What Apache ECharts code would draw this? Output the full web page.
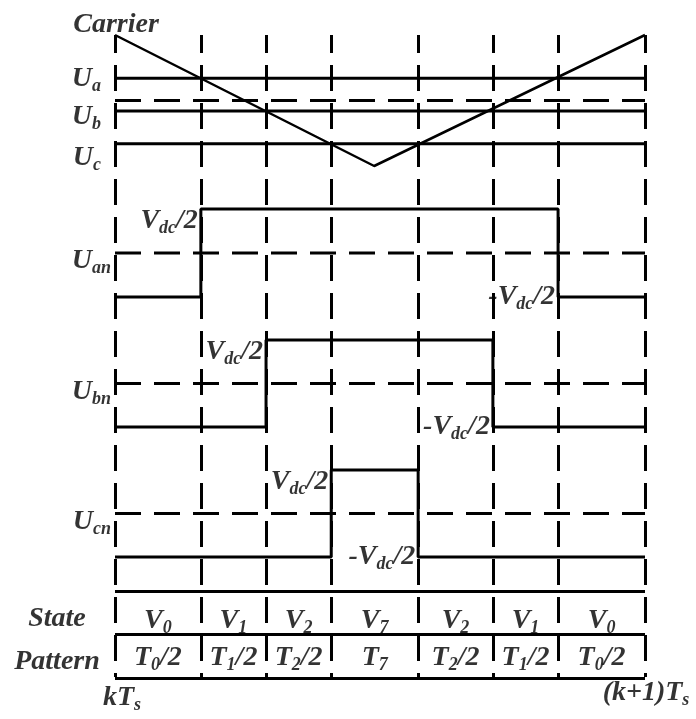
<!DOCTYPE html>
<html>
<head>
<meta charset="utf-8">
<script src="https://cdn.jsdelivr.net/npm/echarts@6/dist/echarts.min.js"></script>
<style>
  html, body { margin: 0; padding: 0; background: #fff; }
  #chart { width: 696px; height: 719px; }
</style>
</head>
<body>
<div id="chart"></div>
<script>
// Interval boundaries over one switching period Ts (in % of Ts)
const bounds = [0, 16.2, 28.5, 40.8, 57.2, 71.3, 83.6, 100];
// Triangular carrier, [time, value]
const carrierPts = [[0, 1], [48.9, -1], [100, 1]];
// Modulating references (carrier units)
const refNames = [['U', 'a'], ['U', 'b'], ['U', 'c']];
const refLevels = [0.34, -0.16, -0.66];
// Phase-to-neutral voltage in each of the seven intervals (+1 = Vdc/2, -1 = -Vdc/2)
const phaseNames = [['U', 'an'], ['U', 'bn'], ['U', 'cn']];
const uanLevels = [-1, 1, 1, 1, 1, 1, -1];
const ubnLevels = [-1, -1, 1, 1, 1, -1, -1];
const ucnLevels = [-1, -1, -1, 1, -1, -1, -1];
// Table rows
const rowTitles = ['State', 'Pattern'];
const stateLabels = [['V', '0'], ['V', '1'], ['V', '2'], ['V', '7'], ['V', '2'], ['V', '1'], ['V', '0']];
const patternLabels = [['T', '0', '/2'], ['T', '1', '/2'], ['T', '2', '/2'], ['T', '7', ''], ['T', '2', '/2'], ['T', '1', '/2'], ['T', '0', '/2']];
const timeLabels = [['kT', 's'], ['(k+1)T', 's']];

const FONT = '"Liberation Serif", "Times New Roman", serif';
const rich = {
  m: { fontFamily: FONT, fontWeight: 'bold', fontStyle: 'italic', fontSize: 28, lineHeight: 34, color: '#000' },
  s: { fontFamily: FONT, fontWeight: 'bold', fontStyle: 'italic', fontSize: 18, lineHeight: 34, padding: [15, 0, 0, 0], color: '#000' }
};
const fmt = (base, sub, tail) => '{m|' + base + '}' + (sub ? '{s|' + sub + '}' : '') + (tail ? '{m|' + tail + '}' : '');

const INK = '#000';
const solid = { color: INK, width: 3, type: 'solid' };
const dashed = { color: INK, width: 3, type: [26, 13] };

const L = 115, R = 51;
const grids = [
  { left: L, right: R, top: 35, height: 131 },  // carrier + references
  { left: L, right: R, top: 209, height: 88 },  // Uan
  { left: L, right: R, top: 340, height: 87 },  // Ubn
  { left: L, right: R, top: 470, height: 87 },  // Ucn
  { left: L, right: R, top: 591, height: 87 },  // state / pattern table
  { left: L, right: R, top: 35, height: 642 }   // interval boundaries
];
const xAxes = grids.map((g, i) => ({ gridIndex: i, type: 'value', min: 0, max: 100, show: false }));
const yAxes = grids.map((g, i) => {
  if (i < 4) return { gridIndex: i, type: 'value', min: -1, max: 1, show: false };
  if (i === 4) return { gridIndex: i, type: 'value', min: 0, max: 2, inverse: true, show: false };
  return { gridIndex: i, type: 'value', min: 0, max: 1, inverse: true, show: false };
});

const textSeries = (gi, data, extra) => ({
  type: 'scatter', xAxisIndex: gi, yAxisIndex: gi, symbolSize: 0, silent: true, z: 5,
  data: data,
  label: Object.assign({ show: true, rich: rich, formatter: p => p.data.txt }, extra || {})
});

const series = [];

// Carrier
series.push({
  type: 'line', xAxisIndex: 0, yAxisIndex: 0, data: carrierPts, symbol: 'none', clip: false,
  lineStyle: { color: INK, width: 2.5 }
});
series.push(textSeries(0, [{ value: carrierPts[0], txt: '{m|Carrier}' }], { position: 'top', distance: 0, offset: [1, 7] }));

// References and carrier zero level
refLevels.forEach(lv => {
  series.push({
    type: 'line', xAxisIndex: 0, yAxisIndex: 0, symbol: 'none', clip: false,
    data: [[0, lv], [100, lv]], lineStyle: solid
  });
});
series.push({
  type: 'line', xAxisIndex: 0, yAxisIndex: 0, symbol: 'none', clip: false,
  data: [[0, 0], [100, 0]], lineStyle: dashed
});
const refOffsets = [[0, 1], [0, 6], [0, 14]];
refLevels.forEach((lv, i) => {
  series.push(textSeries(0, [{ value: [0, lv], txt: fmt(refNames[i][0], refNames[i][1]) }],
    { position: 'left', distance: 14, offset: refOffsets[i] }));
});

// Phase voltages
[uanLevels, ubnLevels, ucnLevels].forEach((lv, k) => {
  const gi = k + 1;
  const pts = lv.map((v, i) => [bounds[i], v]);
  pts.push([bounds[bounds.length - 1], lv[lv.length - 1]]);
  series.push({
    type: 'line', xAxisIndex: gi, yAxisIndex: gi, symbol: 'none', clip: false, step: 'end',
    data: pts, lineStyle: solid
  });
  series.push({
    type: 'line', xAxisIndex: gi, yAxisIndex: gi, symbol: 'none', clip: false,
    data: [[0, 0], [100, 0]], lineStyle: dashed
  });
  series.push(textSeries(gi, [{ value: [0, 0], txt: fmt(phaseNames[k][0], phaseNames[k][1]) }],
    { position: 'left', distance: 4, offset: [0, 8] }));
  // level annotation at every switching edge
  const edges = [];
  for (let i = 1; i < lv.length; i++) {
    if (lv[i] !== lv[i - 1]) {
      const up = lv[i] > 0;
      edges.push({
        value: [bounds[i], lv[i]],
        txt: fmt(up ? 'V' : '-V', 'dc', '/2'),
        label: { offset: up ? [0, 12] : [0, 0] }
      });
    }
  }
  series.push(textSeries(gi, edges, { position: 'left', distance: 3 }));
});

// Table lines and cell texts
series.push({
  type: 'line', xAxisIndex: 4, yAxisIndex: 4, symbol: 'none', data: [],
  markLine: {
    silent: true, symbol: ['none', 'none'], label: { show: false }, animation: false,
    lineStyle: solid, data: [0, 1, 2].map(v => ({ yAxis: v }))
  }
});
const mids = bounds.slice(0, -1).map((b, i) => (b + bounds[i + 1]) / 2);
series.push(textSeries(4, mids.map((m, i) => ({ value: [m, 0.5], txt: fmt(stateLabels[i][0], stateLabels[i][1]) })),
  { position: 'inside', offset: [0, 8] }));
series.push(textSeries(4, mids.map((m, i) => ({ value: [m, 1.5], txt: fmt(patternLabels[i][0], patternLabels[i][1], patternLabels[i][2]) })),
  { position: 'inside', offset: [0, 2] }));
series.push(textSeries(4, rowTitles.map((t, i) => ({ value: [0, i + 0.5], txt: '{m|' + t + '}' })),
  { position: 'left', distance: 58, align: 'center', offset: [0, 6] }));
series.push(textSeries(4, [
  { value: [0, 2], txt: fmt(timeLabels[0][0], timeLabels[0][1]), label: { offset: [7, 0] } },
  { value: [100, 2], txt: fmt(timeLabels[1][0], timeLabels[1][1]), label: { offset: [1, -5] } }
], { position: 'bottom', distance: 3 }));

// Interval boundaries through the whole diagram
series.push({
  type: 'line', xAxisIndex: 5, yAxisIndex: 5, symbol: 'none', data: [],
  markLine: {
    silent: true, symbol: ['none', 'none'], label: { show: false }, animation: false,
    lineStyle: { color: INK, width: 3, type: [26, 12], dashOffset: 8 },
    data: bounds.map(b => ({ xAxis: b }))
  }
});

const chart = echarts.init(document.getElementById('chart'), null, { renderer: 'canvas' });
chart.setOption({
  animation: false,
  backgroundColor: '#fff',
  grid: grids,
  xAxis: xAxes,
  yAxis: yAxes,
  series: series
});
</script>
</body>
</html>
